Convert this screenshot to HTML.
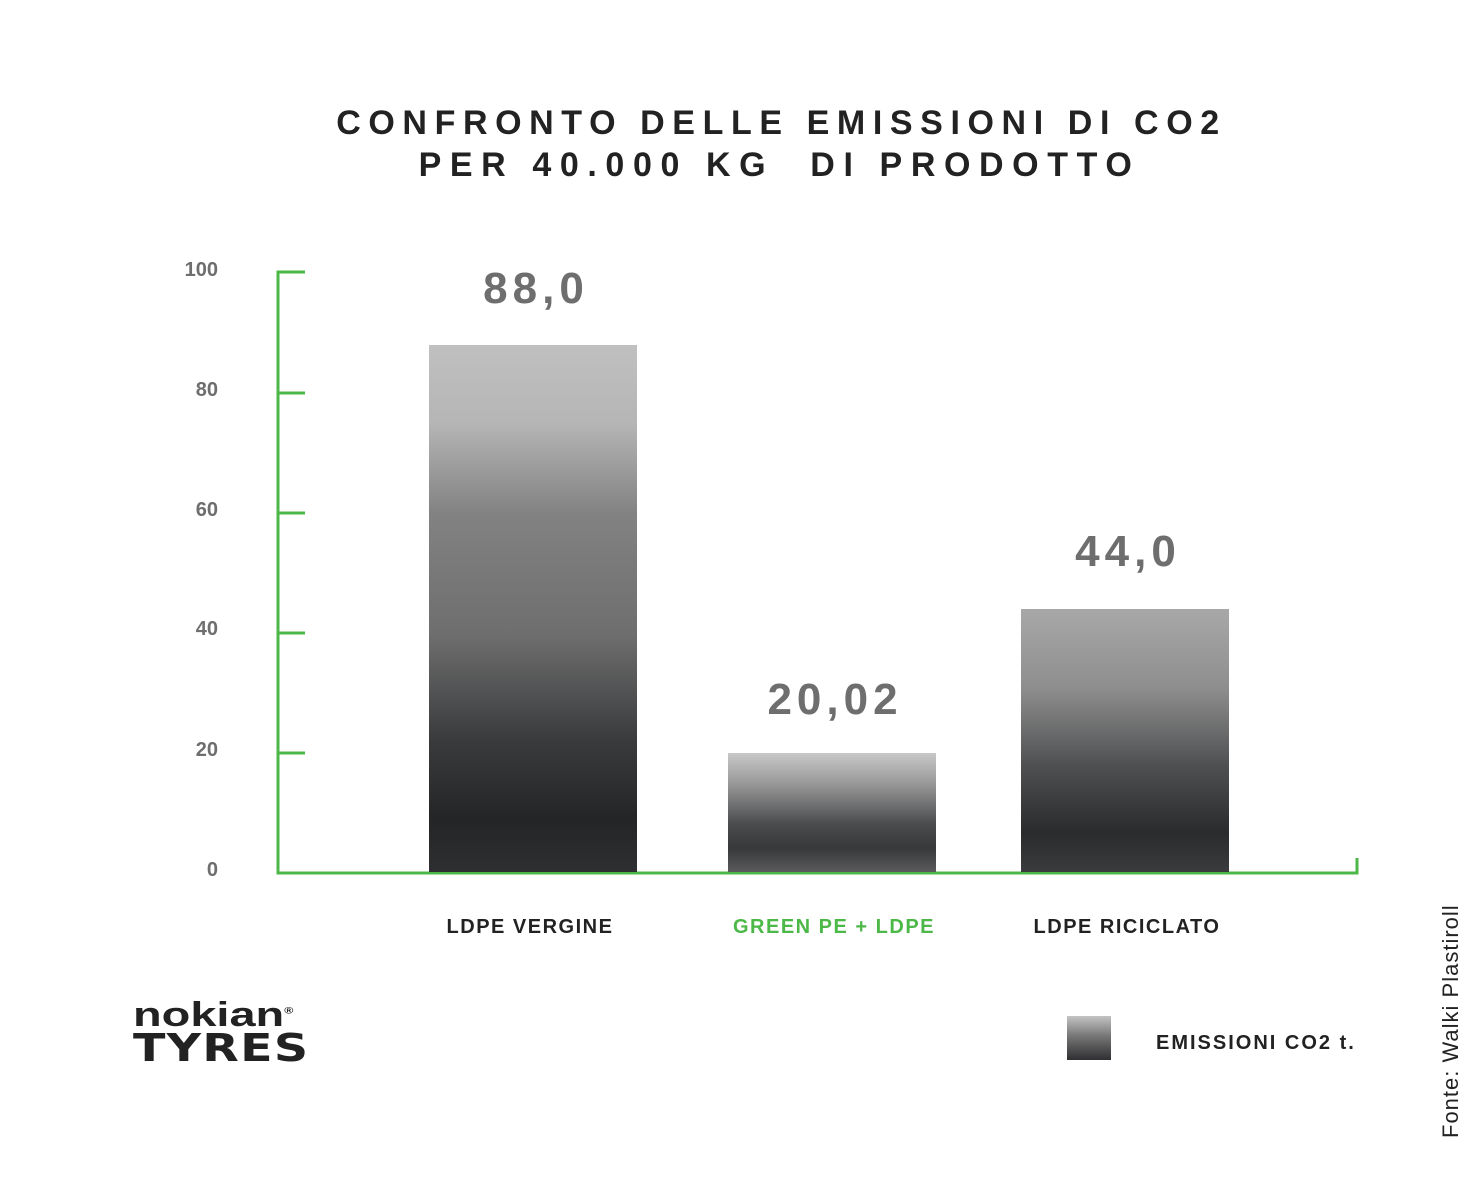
<!DOCTYPE html>
<html><head><meta charset="utf-8"><style>
body{margin:0;width:1479px;height:1200px;background:#fff;position:relative;overflow:hidden;font-family:"Liberation Sans","DejaVu Sans",sans-serif}
.t{position:absolute;white-space:nowrap}
.title{left:0;width:1569px;text-align:center;font-weight:bold;font-size:34px;letter-spacing:7.6px;color:#222}
.yl{font-size:20px;font-weight:bold;color:#6e6e6e;text-align:right;width:60px;left:158px}
.val{font-size:44px;font-weight:bold;color:#6e6e6e;letter-spacing:5px;text-align:center}
.cat{font-size:20px;font-weight:bold;letter-spacing:1.5px;color:#222;text-align:center;width:300px}
.bar{position:absolute}
</style></head><body>
<div class="t title" style="top:104px;left:-3px">CONFRONTO DELLE EMISSIONI DI CO2</div>
<div class="t title" style="top:146px;left:-5px;letter-spacing:8.6px">PER 40.000 KG&nbsp; DI PRODOTTO</div>
<div class="t yl" style="top:259px">100</div>
<div class="t yl" style="top:379px">80</div>
<div class="t yl" style="top:499px">60</div>
<div class="t yl" style="top:618px">40</div>
<div class="t yl" style="top:739px">20</div>
<div class="t yl" style="top:859px">0</div>
<svg width="1479" height="1200" style="position:absolute;left:0;top:0">
<g stroke="#4cb848" stroke-width="3" fill="none">
<path d="M305 272H278V873H1357V858"/>
<path d="M278 393H305M278 513H305M278 633H305M278 753H305"/>
</g>
</svg>
<div class="bar" style="left:429px;top:345px;width:208px;height:527px;background:linear-gradient(#c0c0c0 0%,#b5b5b5 15%,#828282 32%,#6e6e6e 55%,#3a3b3d 75%,#232527 90%,#2e2f31 100%)"></div>
<div class="bar" style="left:728px;top:753px;width:208px;height:119px;background:linear-gradient(#c8c8c8 0%,#9a9a9a 25%,#4a4b4d 60%,#38393b 80%,#5a5a5c 100%)"></div>
<div class="bar" style="left:1021px;top:609px;width:208px;height:263px;background:linear-gradient(#a8a8a8 0%,#8e8e8e 30%,#4e4f51 60%,#2a2b2d 85%,#3a3b3d 100%)"></div>
<div class="t val" style="left:429px;width:214px;top:264px">88,0</div>
<div class="t val" style="left:728px;width:214px;top:675px">20,02</div>
<div class="t val" style="left:1021px;width:214px;top:527px">44,0</div>
<div class="t cat" style="left:380px;top:916px">LDPE VERGINE</div>
<div class="t cat" style="left:684px;top:916px;color:#4cb848">GREEN PE + LDPE</div>
<div class="t cat" style="left:977px;top:916px">LDPE RICICLATO</div>
<div class="t" style="left:133px;top:996px;font-size:34px;font-weight:bold;color:#222;transform:scaleX(1.38);transform-origin:left">nokian<sup style="font-size:9px">®</sup></div>
<div class="t" style="left:133px;top:1026px;font-size:38px;font-weight:900;color:#222;font-family:'DejaVu Sans',sans-serif;letter-spacing:1px;transform:scaleX(1.25);transform-origin:left">TYRES</div>
<div class="bar" style="left:1067px;top:1016px;width:44px;height:44px;background:linear-gradient(#c4c4c4,#777 45%,#2e2f31)"></div>
<div class="t" style="left:1156px;top:1032px;font-size:20px;font-weight:bold;letter-spacing:2px;color:#222">EMISSIONI CO2 t.</div>
<div class="t" style="left:1438px;top:1138px;font-size:22px;letter-spacing:1px;color:#222;transform:rotate(-90deg);transform-origin:left top">Fonte: Walki Plastiroll</div>
</body></html>
